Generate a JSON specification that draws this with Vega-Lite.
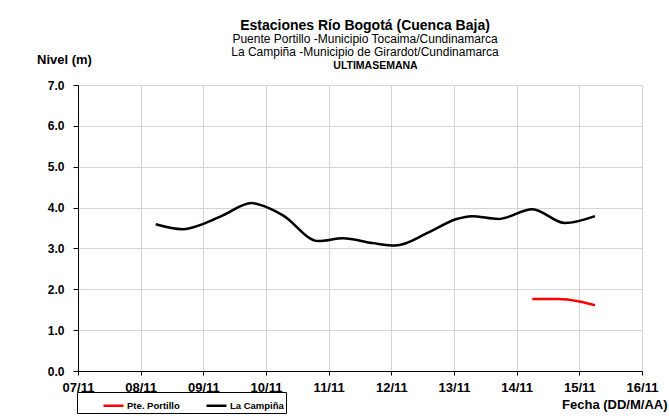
{
  "$schema": "https://vega.github.io/schema/vega-lite/v6.json",
  "width": 564,
  "height": 286,
  "autosize": {"type": "none"},
  "padding": {"left": 78, "top": 85, "right": 27, "bottom": 45},
  "background": "white",
  "config": {
    "font": "Liberation Sans",
    "view": {"stroke": "#a0a0a0", "strokeWidth": 1}
  },
  "title": {
    "text": "Estaciones Río Bogotá (Cuenca Baja)",
    "subtitle": ["Puente Portillo -Municipio Tocaima/Cundinamarca", "La Campiña -Municipio de Girardot/Cundinamarca"],
    "fontSize": 14,
    "fontWeight": "bold",
    "color": "black",
    "subtitleFontSize": 12,
    "subtitleColor": "black",
    "subtitleFontWeight": "normal",
    "subtitlePadding": 1,
    "subtitleLineHeight": 13,
    "anchor": "middle",
    "dx": 5,
    "offset": -5
  },
  "data": {
    "values": [
      {"fecha": "2023-11-08T05:45", "nivel": 3.59, "estacion": "La Campiña"},
      {"fecha": "2023-11-08T16:00", "nivel": 3.47, "estacion": "La Campiña"},
      {"fecha": "2023-11-09T00:45", "nivel": 3.62, "estacion": "La Campiña"},
      {"fecha": "2023-11-09T07:30", "nivel": 3.81, "estacion": "La Campiña"},
      {"fecha": "2023-11-09T18:30", "nivel": 4.11, "estacion": "La Campiña"},
      {"fecha": "2023-11-09T23:30", "nivel": 4.03, "estacion": "La Campiña"},
      {"fecha": "2023-11-10T06:30", "nivel": 3.81, "estacion": "La Campiña"},
      {"fecha": "2023-11-10T20:00", "nivel": 3.18, "estacion": "La Campiña"},
      {"fecha": "2023-11-11T05:30", "nivel": 3.25, "estacion": "La Campiña"},
      {"fecha": "2023-11-11T17:00", "nivel": 3.13, "estacion": "La Campiña"},
      {"fecha": "2023-11-12T01:30", "nivel": 3.07, "estacion": "La Campiña"},
      {"fecha": "2023-11-12T14:30", "nivel": 3.4, "estacion": "La Campiña"},
      {"fecha": "2023-11-13T01:00", "nivel": 3.72, "estacion": "La Campiña"},
      {"fecha": "2023-11-13T06:45", "nivel": 3.79, "estacion": "La Campiña"},
      {"fecha": "2023-11-13T17:00", "nivel": 3.72, "estacion": "La Campiña"},
      {"fecha": "2023-11-14T06:00", "nivel": 3.96, "estacion": "La Campiña"},
      {"fecha": "2023-11-14T18:30", "nivel": 3.62, "estacion": "La Campiña"},
      {"fecha": "2023-11-15T06:00", "nivel": 3.79, "estacion": "La Campiña"},
      {"fecha": "2023-11-14T06:00", "nivel": 1.76, "estacion": "Pte. Portillo"},
      {"fecha": "2023-11-14T16:00", "nivel": 1.76, "estacion": "Pte. Portillo"},
      {"fecha": "2023-11-15T00:00", "nivel": 1.7, "estacion": "Pte. Portillo"},
      {"fecha": "2023-11-15T06:00", "nivel": 1.61, "estacion": "Pte. Portillo"}
    ]
  },
  "encoding": {
    "y": {
      "field": "nivel",
      "type": "quantitative",
      "scale": {"domain": [0, 7], "nice": false},
      "axis": {
        "values": [0, 1, 2, 3, 4, 5, 6, 7],
        "format": ".1f",
        "title": "Nivel (m)",
        "titleAngle": 0,
        "titleAlign": "center",
        "titleBaseline": "middle",
        "titleX": -14,
        "titleY": -26,
        "titleFontSize": 13,
        "titleFontWeight": "bold",
        "titleColor": "black",
        "labelFontSize": 12,
        "labelFontWeight": "bold",
        "labelColor": "black",
        "labelPadding": 9,
        "tickSize": 5,
        "tickColor": "black",
        "domainColor": "black",
        "gridColor": "#d4d4d4",
        "labelFlush": false
      }
    },
    "color": {
      "field": "estacion",
      "type": "nominal",
      "scale": {"domain": ["Pte. Portillo", "La Campiña"], "range": ["#ff0000", "#000000"]},
      "legend": {
        "title": null,
        "orient": "none",
        "legendX": -1,
        "legendY": 307,
        "direction": "horizontal",
        "symbolType": "stroke",
        "symbolSize": 400,
        "symbolStrokeWidth": 2.5,
        "symbolOffset": 23,
        "labelFontSize": 9.5,
        "labelFontWeight": "bold",
        "labelColor": "black",
        "labelOffset": 2,
        "columnPadding": 2,
        "strokeColor": "black",
        "padding": 2,
        "fillColor": "white"
      }
    }
  },
  "layer": [
    {
      "transform": [{"filter": "datum.estacion === 'La Campiña'"}],
      "mark": {"type": "line", "interpolate": "monotone", "strokeWidth": 2.5},
      "encoding": {
        "x": {
          "field": "fecha",
          "type": "temporal",
          "scale": {"domain": [{"year": 2023, "month": 11, "date": 7}, {"year": 2023, "month": 11, "date": 16}]},
          "axis": {
            "orient": "bottom",
            "format": "%d/%m",
            "tickCount": {"interval": "day", "step": 1},
            "labelFlush": false,
            "labelOverlap": false,
            "labelFontSize": 13,
            "labelFontWeight": "bold",
            "labelColor": "black",
            "labelPadding": 6,
            "tickSize": 4,
            "tickColor": "black",
            "domainColor": "black",
            "gridColor": "#d4d4d4",
            "title": "Fecha (DD/M/AA)",
            "titleFontSize": 13,
            "titleFontWeight": "bold",
            "titleColor": "black",
            "titleAlign": "right",
            "titleBaseline": "middle",
            "titleX": 589,
            "titleY": 33
          }
        }
      }
    },
    {
      "transform": [{"filter": "datum.estacion === 'Pte. Portillo'"}],
      "mark": {"type": "line", "interpolate": "monotone", "strokeWidth": 2.5},
      "encoding": {
        "x": {
          "field": "fecha",
          "type": "temporal",
          "scale": {"domain": [{"year": 2023, "month": 11, "date": 7}, {"year": 2023, "month": 11, "date": 16}]},
          "axis": {
            "orient": "top",
            "labels": false,
            "ticks": false,
            "domain": false,
            "grid": false,
            "title": "ULTIMASEMANA",
            "titleFontSize": 10.5,
            "titleFontWeight": "bold",
            "titleColor": "black",
            "titlePadding": 15,
            "titleX": 297
          }
        }
      }
    }
  ],
  "resolve": {"axis": {"x": "independent"}}
}
